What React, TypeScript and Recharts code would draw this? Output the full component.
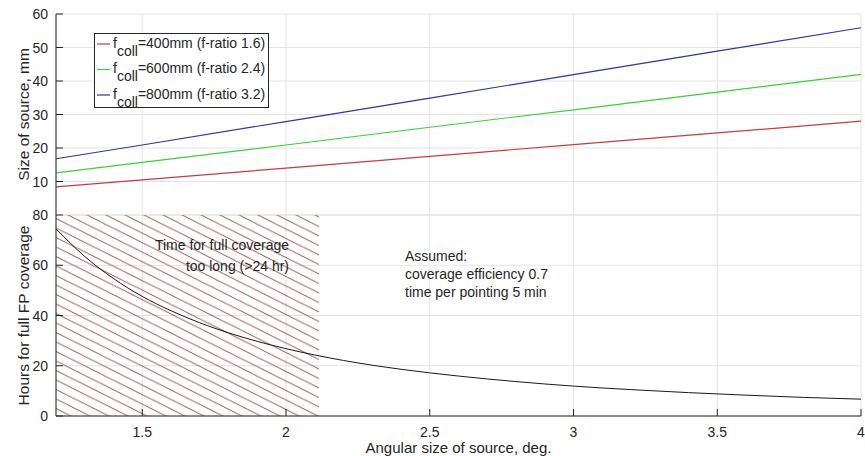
import React from 'react';
import { LineChart, Line, XAxis, YAxis, CartesianGrid, ReferenceArea, Legend } from 'recharts';

// ---- data ----
const angles = [1.2, 1.5, 2, 2.5, 3, 3.5, 4];
const size400 = [8.4, 10.5, 14.0, 17.5, 21.0, 24.5, 28.0];
const size600 = [12.6, 15.7, 20.9, 26.2, 31.4, 36.7, 42.0];
const size800 = [16.8, 20.9, 27.9, 34.9, 41.9, 48.9, 55.9];
const seriesNames = ['f_coll=400mm (f-ratio 1.6)', 'f_coll=600mm (f-ratio 2.4)', 'f_coll=800mm (f-ratio 3.2)'];
const seriesColors = ['#c83c3c', '#3ccf3c', '#3434a2'];

const hourAngles = [1.2, 1.3, 1.4, 1.5, 1.6, 1.7, 1.8, 1.9, 2.0, 2.2, 2.4, 2.6, 2.8, 3.0, 3.2, 3.4, 3.6, 3.8, 4.0];
const hours = [74.5, 63.5, 54.7, 47.6, 41.9, 37.1, 33.1, 29.7, 26.8, 22.1, 18.6, 15.9, 13.7, 11.9, 10.5, 9.3, 8.3, 7.4, 6.7];

const xTicks = [1.5, 2, 2.5, 3, 3.5, 4];
const sizeTicks = [10, 20, 30, 40, 50, 60];
const hourTicks = [0, 20, 40, 60, 80];
const xDomain = [1.2, 4];
const sizeDomain = [0, 60];
const hourDomain = [0, 80];
const hatchLimit = 2.115;

const sizeData = angles.map((a, i) => ({ a, s400: size400[i], s600: size600[i], s800: size800[i] }));
const hourData = hourAngles.map((a, i) => ({ a, h: hours[i] }));

// ---- style ----
const INK = '#262626';
const GRID = '#e4e4e4';
const TICK = 7;
const FONT = "'Liberation Sans', Arial, Helvetica, sans-serif";

const XTickUp = (p: any) => <line x1={p.x} y1={p.y} x2={p.x} y2={p.y - TICK} stroke={INK} />;
const XTickDown = (p: any) => <line x1={p.x} y1={p.y} x2={p.x} y2={p.y + TICK} stroke={INK} />;
const XTickUpLabel = (p: any) => (
  <g>
    <line x1={p.x} y1={p.y} x2={p.x} y2={p.y - TICK} stroke={INK} />
    <text x={p.x} y={p.y + 21} textAnchor="middle" fontSize={14} fill={INK}>{p.payload.value}</text>
  </g>
);
const YTickLeft = (p: any) => (
  <g>
    <line x1={p.x} y1={p.y} x2={p.x + TICK} y2={p.y} stroke={INK} />
    <text x={p.x - 8} y={p.y + 5} textAnchor="end" fontSize={14} fill={INK}>{p.payload.value}</text>
  </g>
);
const YTickRight = (p: any) => <line x1={p.x} y1={p.y} x2={p.x - TICK} y2={p.y} stroke={INK} />;

const renderLegend = () => (
  <svg width={175} height={75} style={{ display: 'block' }}>
    <rect x={0.5} y={0.5} width={174} height={74} fill="#fff" stroke={INK} />
    {seriesNames.map((n, i) => {
      const [f, rest] = n.split('_coll');
      const base = 14.5 + i * 25.5;
      return (
        <g key={n}>
          <line x1={3} x2={16} y1={base - 3.5} y2={base - 3.5} stroke={seriesColors[i]} strokeWidth={1.2} />
          <text x={19} y={base} fontSize={14} fill={INK} fontFamily={FONT}>
            {f}
            <tspan dy={8}>coll</tspan>
            <tspan dy={-8}>{rest}</tspan>
          </text>
        </g>
      );
    })}
  </svg>
);

export default function App() {
  return (
    <div style={{ position: 'absolute', left: 0, top: 0, width: 865, height: 456, background: '#fff', fontFamily: FONT, overflow: 'hidden' }}>
      <svg width={0} height={0} style={{ position: 'absolute' }}>
        <defs>
          <pattern id="hatch" patternUnits="userSpaceOnUse" width={19} height={9.5}>
            <path d="M-2,-1 L21,10.5 M-21,-1 L2,10.5 M17,-1 L40,10.5" stroke="#9a5a5a" strokeWidth={1} fill="none" />
          </pattern>
        </defs>
      </svg>

      <div style={{ position: 'absolute', left: 0, top: 0 }}>
        <LineChart width={865} height={216} data={sizeData} margin={{ top: 14, right: 4, bottom: 1, left: 0 }}>
          <CartesianGrid stroke={GRID} />
          <XAxis dataKey="a" type="number" domain={xDomain} ticks={xTicks} interval={0} height={0}
            tickSize={0} tickMargin={0} tickLine={false} tick={XTickUp} axisLine={{ stroke: INK }} />
          <XAxis xAxisId="top" orientation="top" dataKey="a" type="number" domain={xDomain} ticks={xTicks} interval={0} height={0}
            tickSize={0} tickMargin={0} tickLine={false} tick={XTickDown} axisLine={{ stroke: INK }} />
          <YAxis type="number" domain={sizeDomain} ticks={sizeTicks} interval={0} width={56}
            tickSize={0} tickMargin={0} tickLine={false} tick={YTickLeft} axisLine={{ stroke: INK }} />
          <YAxis yAxisId="r" orientation="right" type="number" domain={sizeDomain} ticks={sizeTicks} interval={0} width={0}
            tickSize={0} tickMargin={0} tickLine={false} tick={YTickRight} axisLine={{ stroke: INK }} />
          <Legend content={renderLegend} layout="horizontal" verticalAlign="middle" align="center"
            wrapperStyle={{ left: 94, top: 33, width: 175, height: 75 }} />
          <Line dataKey="s400" name={seriesNames[0]} stroke={seriesColors[0]} strokeWidth={1.2} dot={false} isAnimationActive={false} />
          <Line dataKey="s600" name={seriesNames[1]} stroke={seriesColors[1]} strokeWidth={1.2} dot={false} isAnimationActive={false} />
          <Line dataKey="s800" name={seriesNames[2]} stroke={seriesColors[2]} strokeWidth={1.2} dot={false} isAnimationActive={false} />
        </LineChart>
      </div>

      <div style={{ position: 'absolute', left: 0, top: 200 }}>
        <LineChart width={865} height={256} data={hourData} margin={{ top: 15, right: 4, bottom: 0, left: 0 }}>
          <CartesianGrid stroke={GRID} />
          <XAxis dataKey="a" type="number" domain={xDomain} ticks={xTicks} interval={0} height={40}
            tickSize={0} tickMargin={0} tickLine={false} tick={XTickUpLabel} axisLine={{ stroke: INK }} />
          <XAxis xAxisId="top" orientation="top" dataKey="a" type="number" domain={xDomain} ticks={xTicks} interval={0} height={0}
            tickSize={0} tickMargin={0} tickLine={false} tick={XTickDown} axisLine={{ stroke: INK }} />
          <YAxis type="number" domain={hourDomain} ticks={hourTicks} interval={0} width={56}
            tickSize={0} tickMargin={0} tickLine={false} tick={YTickLeft} axisLine={{ stroke: INK }} />
          <YAxis yAxisId="r" orientation="right" type="number" domain={hourDomain} ticks={hourTicks} interval={0} width={0}
            tickSize={0} tickMargin={0} tickLine={false} tick={YTickRight} axisLine={{ stroke: INK }} />
          <ReferenceArea x1={xDomain[0]} x2={hatchLimit} y1={hourDomain[0]} y2={hourDomain[1]} fill="url(#hatch)" fillOpacity={1} stroke="none" />
          <Line dataKey="h" type="monotone" stroke="#1a1a1a" strokeWidth={1} dot={false} isAnimationActive={false} />
        </LineChart>
      </div>

      <svg width={865} height={456} style={{ position: 'absolute', left: 0, top: 0, pointerEvents: 'none' }}>
        <g fontSize={14} fill={INK} fontFamily={FONT}>
          <text x={289} y={250} textAnchor="end">Time for full coverage</text>
          <text x={289} y={270.5} textAnchor="end">too long (&gt;24 hr)</text>
          <text x={405} y={261}>Assumed:</text>
          <text x={405} y={279}>coverage efficiency 0.7</text>
          <text x={405} y={297}>time per pointing 5 min</text>
        </g>
        <g fontSize={15.5} fill={INK} fontFamily={FONT}>
          <text x={29} y={114.5} textAnchor="middle" transform="rotate(-90 29 114.5)">Size of source, mm</text>
          <text x={29} y={315.5} textAnchor="middle" transform="rotate(-90 29 315.5)">Hours for full FP coverage</text>
          <text x={458.5} y={453} fontSize={15} textAnchor="middle">Angular size of source, deg.</text>
        </g>
      </svg>
    </div>
  );
}
